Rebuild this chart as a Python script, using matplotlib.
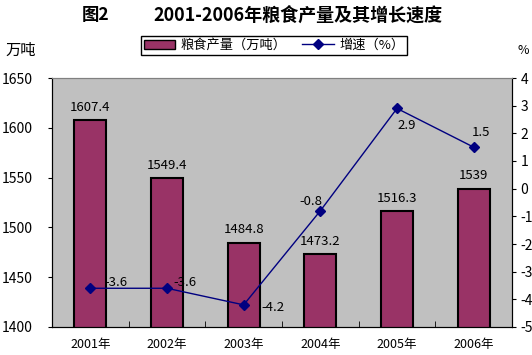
import matplotlib
matplotlib.use('Agg')
import matplotlib.pyplot as plt
from matplotlib.lines import Line2D
from matplotlib.patches import Patch

plt.rcParams['font.family'] = ['Noto Sans CJK SC', 'DejaVu Sans']
plt.rcParams['axes.unicode_minus'] = False

# data
years = ['2001年', '2002年', '2003年', '2004年', '2005年', '2006年']
output = [1607.4, 1549.4, 1484.8, 1473.2, 1516.3, 1539]
growth = [-3.6, -3.6, -4.2, -0.8, 2.9, 1.5]
left_ticks = [1400, 1450, 1500, 1550, 1600, 1650]
right_ticks = [-5, -4, -3, -2, -1, 0, 1, 2, 3, 4]

bar_color = '#993366'
line_color = '#000080'

fig = plt.figure(figsize=(5.32, 3.55), dpi=100)
ax = fig.add_axes([52/532, 28/355, 460/532, 249/355])
ax.set_facecolor('#C0C0C0')

x = list(range(len(years)))
ax.bar(x, output, width=0.42, color=bar_color, edgecolor='black', linewidth=1.5, zorder=2)
ax.set_ylim(1400, 1650)
ax.set_xlim(-0.5, len(years) - 0.5)
ax.set_yticks(left_ticks)
ax.set_xticks(x)
ax.set_xticklabels(years)
ax.set_xticks([i + 0.5 for i in x[:-1]], minor=True)
ax.tick_params(axis='x', which='major', length=0, pad=8, labelsize=9)
ax.tick_params(axis='x', which='minor', direction='in', length=4)
ax.tick_params(axis='y', direction='out', length=3, labelsize=10, pad=11)

for i, v in enumerate(output):
    ax.annotate(f'{v:g}', (i, v), xytext=(0, 13), textcoords='offset pixels',
                ha='center', va='center', fontsize=9.5)

ax2 = ax.twinx()
ax2.plot(x, growth, color=line_color, marker='D', markersize=5, linewidth=1, zorder=3)
ax2.set_ylim(-5, 4)
ax2.set_yticks(right_ticks)
ax2.tick_params(axis='y', direction='out', length=3, labelsize=10, pad=3)

offsets = [(14, 6), (6, 6), (18, -3), (-21, 9), (0, -17), (-2, 15)]
for i, v in enumerate(growth):
    dx, dy = offsets[i]
    ax2.annotate(f'{v:g}', (i, v), xytext=(dx, dy), textcoords='offset pixels',
                 ha='left', va='center', fontsize=9.5)

for a in (ax, ax2):
    for s in ('left', 'right', 'bottom'):
        a.spines[s].set_color('black')
    a.spines['top'].set_color('#808080')

# title: two parts so the wide gap matches the reference
fig.text(82/532, 1 - 15/355, '图2', ha='left', va='center',
         fontsize=12.5, fontweight='bold')
fig.text(153/532, 1 - 15/355, '2001-2006年粮食产量及其增长速度', ha='left', va='center',
         fontsize=13, fontweight='bold')
fig.text(5/532, 1 - 50/355, '万吨', ha='left', va='center', fontsize=11)
fig.text(518/532, 1 - 50/355, '%', ha='left', va='center', fontsize=9)

handles = [Patch(facecolor=bar_color, edgecolor='black'),
           Line2D([], [], color=line_color, marker='D', markersize=5, linewidth=1)]
fig.legend(handles, ['粮食产量（万吨）', '增速（%）'], loc='center',
           bbox_to_anchor=(274/532, 1 - 45.5/355), ncol=2, fontsize=9.5,
           frameon=True, fancybox=False, edgecolor='black', framealpha=1,
           handlelength=2.4, handletextpad=0.4, columnspacing=1.2,
           borderpad=0.2)

fig.savefig('out.png', dpi=100)
